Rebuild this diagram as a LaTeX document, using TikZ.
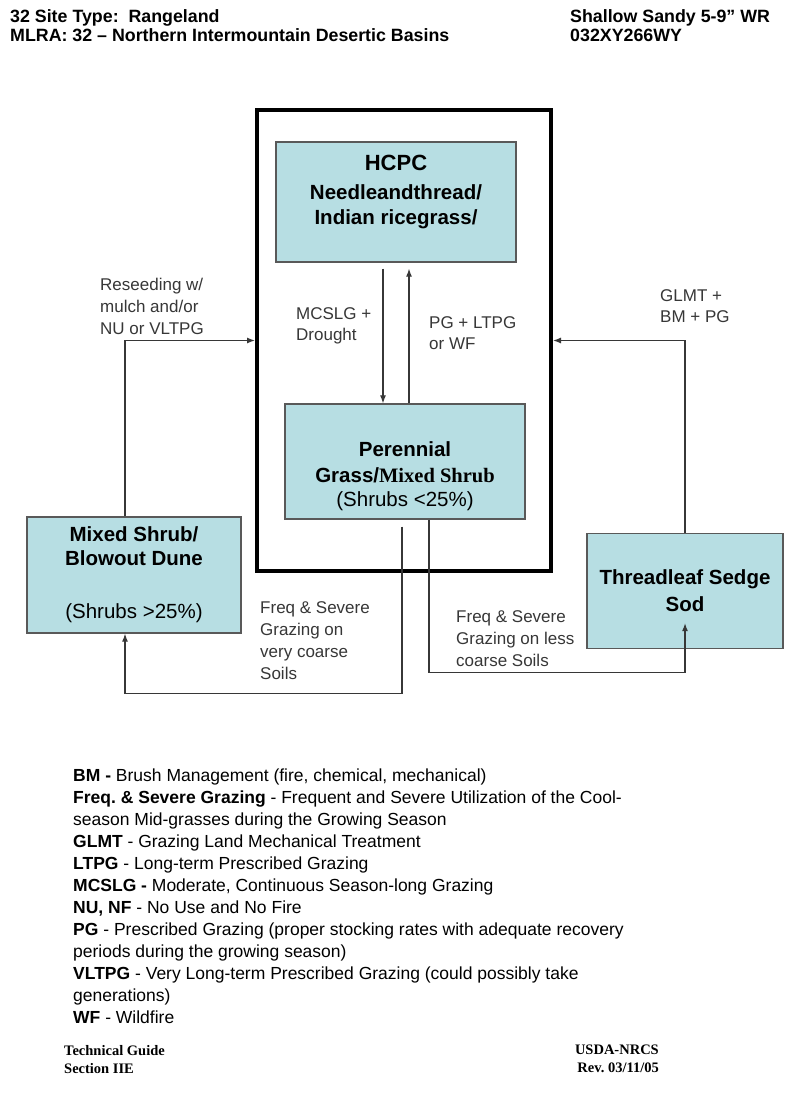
\documentclass[tikz,border=0pt]{standalone}
\usepackage{fontspec}
\setmainfont{Liberation Sans}
\newfontfamily\timesfont{Liberation Serif}
\usetikzlibrary{arrows.meta}
\definecolor{boxblue}{RGB}{183,222,227}
\definecolor{linegray}{RGB}{55,55,55}
\definecolor{labelgray}{RGB}{55,55,55}
\frenchspacing

\begin{document}
\begin{tikzpicture}[x=1pt,y=-1pt,->,>={Latex[length=8pt,width=6pt]},
  state/.style={rectangle,draw=black!65,fill=boxblue,line width=1.3pt,align=center,
    font=\bfseries\fontsize{20.5}{25}\selectfont},
  trans/.style={draw=linegray,line width=1.2pt},
  rule/.style={anchor=north west,inner sep=0pt,align=left,text=labelgray,
    font=\fontsize{17}{22}\selectfont}]
  \tikzstyle{head} = [anchor=north west,inner sep=0pt,align=left,font=\bfseries\fontsize{17.8}{19}\selectfont]
  \tikzstyle{foot} = [inner sep=0pt,font=\timesfont\bfseries\fontsize{14.5}{18}\selectfont]

  \path[use as bounding box,fill=white] (0,0) rectangle (800,1108);

  % title lines
  \node[head] (SITE)    at (10,9.7)  {32 Site Type:~ Rangeland\\MLRA: 32 -- Northern Intermountain Desertic Basins};
  \node[head] (ECOSITE) at (570,9.7) {Shallow Sandy 5-9” WR\\032XY266WY};

  % reference state
  \node[draw=black,line width=4pt,minimum width=294pt,minimum height=461pt,inner sep=0pt] (FRAME) at (404,340.5) {};

  \node[state,minimum width=240pt,minimum height=120pt] (HCPC) at (396,202)
    {{\fontsize{22}{26}\selectfont HCPC}\\[4pt]Needleandthread/\\Indian ricegrass/\\\mbox{}};
  \node[state,minimum width=240pt,minimum height=115pt] (PERENNIAL) at (405,461.5)
    {\mbox{}\\[20pt]Perennial\\[1pt]Grass/{\timesfont Mixed Shrub}\\[-1pt]{\mdseries (Shrubs <25\%)}};
  \node[state,minimum width=214pt,minimum height=116pt] (MIXED) at (134,575)
    {Mixed Shrub/\\[-1pt]Blowout Dune\\[28pt]{\mdseries (Shrubs >25\%)}};
  \node[state,minimum width=196pt,minimum height=115pt] (SEDGE) at (685,591)
    {Threadleaf Sedge\\[2pt]Sod};

  % transition labels
  \node[rule] (RESEED)     at (100,277.5) {Reseeding w/\\mulch and/or\\NU or VLTPG};
  \node[rule] (GLMTBM)     at (660,289)   {GLMT +\\[-1pt]BM + PG};
  \node[rule] (MCSLG)      at (296,307)   {MCSLG +\\[-1pt]Drought};
  \node[rule] (PGLTPG)     at (429,316)   {PG + LTPG\\[-1pt]or WF};
  \node[rule] (COARSE)     at (260,601.5) {Freq \& Severe\\Grazing on\\very coarse\\Soils};
  \node[rule] (LESSCOARSE) at (456,610.5) {Freq \& Severe\\Grazing on less\\coarse Soils};

  % transitions
  \draw[trans] ([xshift=-9pt]MIXED.north) |- (FRAME.west);
  \draw[trans] (SEDGE.north) |- (FRAME.east);
  \draw[trans,shorten <=6pt] ([xshift=-13pt]HCPC.south) -- ([xshift=-13pt]HCPC.south |- PERENNIAL.north);
  \draw[trans,shorten >=6pt] ([xshift=4pt]PERENNIAL.north) -- ([xshift=4pt]PERENNIAL.north |- HCPC.south);
  \draw[trans] ([xshift=-3pt,yshift=-7pt]PERENNIAL.south) -- ++(0,167) -| ([xshift=-9pt]MIXED.south);
  \draw[trans] ([xshift=24pt]PERENNIAL.south) -- ++(0,153) -| ([yshift=26pt]SEDGE.south);

  % legend
  \node[rule,text=black,font=\fontsize{17.5}{22}\selectfont] (KEY) at (73,768.3)
    {\textbf{BM -} Brush Management (fire, chemical, mechanical)\\
     \textbf{Freq. \& Severe Grazing} - Frequent and Severe Utilization of the Cool-\\
     season Mid-grasses during the Growing Season\\
     \textbf{GLMT} - Grazing Land Mechanical Treatment\\
     \textbf{LTPG} - Long-term Prescribed Grazing\\
     \textbf{MCSLG -} Moderate, Continuous Season-long Grazing\\
     \textbf{NU, NF} - No Use and No Fire\\
     \textbf{PG} - Prescribed Grazing (proper stocking rates with adequate recovery\\
     periods during the growing season)\\
     \textbf{VLTPG} - Very Long-term Prescribed Grazing (could possibly take\\
     generations)\\
     \textbf{WF} - Wildfire};

  % footer
  \node[foot,anchor=north west,align=left]  (GUIDE)  at (64,1045)  {Technical Guide\\Section IIE};
  \node[foot,anchor=north east,align=right] (AGENCY) at (659,1045) {USDA-NRCS\\Rev. 03/11/05};
\end{tikzpicture}
\end{document}
